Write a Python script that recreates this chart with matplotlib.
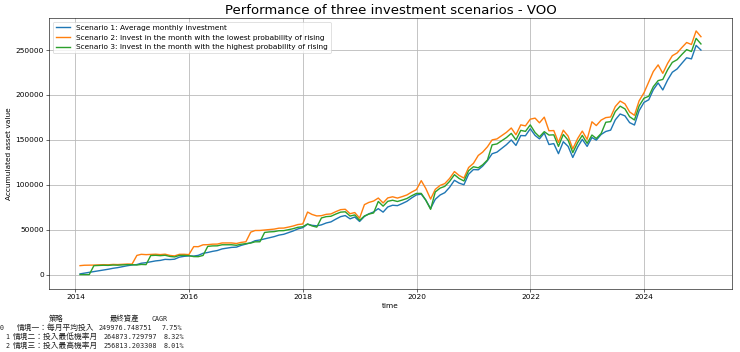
"""Accumulated asset value of three monthly/annual investment scenarios on VOO."""

import pandas as pd

import matplotlib
matplotlib.use("Agg")
import matplotlib.pyplot as plt  # noqa: E402

# month-end dates, Jan 2014 .. Dec 2024
FIRST_MONTH = "2014-01-31"
LAST_MONTH = "2024-12-31"

scenario_1 = [
    833, 1704, 2552, 3405, 4315, 5237, 5999, 7067, 7802, 8828, 9891, 10697,
    11215, 12682, 13313, 14280, 15285, 15820, 16989, 16783, 17197, 19485, 20356, 20862,
    20670, 21449, 23732, 24665, 25914, 26810, 28639, 29479, 30321, 30609, 32534, 34009,
    35508, 37716, 38591, 39834, 41189, 42282, 43997, 44922, 46689, 48630, 50903, 52311,
    56173, 54898, 54337, 55399, 57514, 58713, 61751, 64547, 65754, 62113, 64152, 59183,
    64777, 67636, 69784, 73469, 69573, 75316, 77249, 76798, 79065, 81635, 85372, 88775,
    89608, 83027, 73582, 83872, 88635, 91233, 97236, 105035, 101899, 100062, 111817, 116976,
    116693, 120753, 126897, 134584, 136356, 140427, 144672, 149920, 143829, 154839, 154607, 162425,
    154967, 151161, 157640, 144822, 145879, 134669, 147990, 142753, 130446, 141908, 150589, 142750,
    152649, 149722, 156031, 159385, 160853, 172352, 178818, 176744, 169212, 166572, 182529, 191717,
    194700, 205800, 213400, 205600, 216700, 225300, 229000, 235400, 241400, 240200, 255200, 249977,
]

scenario_2 = [
    10000, 10447, 10535, 10616, 10855, 11079, 10928, 11356, 11197, 11474, 11773, 11741,
    21395, 22602, 22242, 22466, 22735, 22291, 22765, 21372, 20837, 22600, 22645, 22280,
    31185, 31103, 33204, 33345, 33906, 33988, 35250, 35260, 35269, 34635, 35871, 36578,
    47294, 49124, 49180, 49700, 50351, 50670, 51726, 51834, 52912, 54166, 55770, 56400,
    69665, 67050, 65346, 65622, 67139, 67567, 70104, 72333, 72751, 67801, 69117, 62865,
    77923, 80359, 81921, 85269, 79780, 85409, 86657, 85216, 86807, 88714, 91869, 94634,
    104635, 95977, 84097, 94902, 99349, 101326, 107069, 114740, 110403, 107509, 119244, 123857,
    132675, 136344, 142341, 150028, 151074, 154661, 158418, 163253, 155713, 166730, 165583, 173063,
    174228, 169012, 175323, 160141, 160388, 147148, 160794, 154198, 140004, 151412, 159784, 150583,
    170146, 165953, 172024, 174803, 175499, 187136, 193252, 190110, 181111, 177395, 193501, 202357,
    214700, 226100, 233500, 224100, 235200, 243700, 246800, 252900, 258400, 256200, 271300, 264874,
]

scenario_3 = [
    0, 0, 0, 10000, 10226, 10436, 10294, 10697, 10547, 10808, 11090, 11059,
    10733, 11339, 11159, 21271, 21526, 21105, 21554, 20236, 19729, 21398, 21440, 21095,
    20058, 20005, 21357, 31447, 31977, 32054, 33245, 33253, 33262, 32664, 33829, 34496,
    35172, 36533, 36574, 46962, 47577, 47878, 48875, 48978, 49996, 51181, 52697, 53292,
    56377, 54261, 52883, 63106, 64565, 64976, 67415, 69559, 69961, 65200, 66466, 60454,
    65317, 67360, 68669, 81475, 76231, 81609, 82801, 81424, 82945, 84767, 87781, 90424,
    90424, 82942, 72675, 92014, 96325, 98242, 103810, 111249, 107043, 104237, 115615, 120088,
    118941, 122231, 127606, 144499, 145506, 148960, 152580, 157236, 149974, 160584, 159480, 166685,
    158176, 153441, 159171, 155387, 155627, 142779, 156019, 149620, 135846, 146916, 155040, 146112,
    155391, 151562, 157104, 169644, 170319, 181613, 187549, 184500, 175764, 172158, 187791, 196385,
    198600, 209200, 216000, 217300, 228100, 236300, 239300, 245200, 250500, 248400, 263000, 256813,
]

labels = [
    "Scenario 1: Average monthly investment",
    "Scenario 2: Invest in the month with the lowest probability of rising",
    "Scenario 3: Invest in the month with the highest probability of rising",
]

# printed summary table under the chart
strategy_names = ["情境一：每月平均投入", "情境二：投入最低機率月", "情境三：投入最高機率月"]
final_assets = ["249976.748751", "264873.729797", "256813.203308"]
cagr = ["7.75%", "8.32%", "8.01%"]

W, H = 740, 352
DPI = W / 14


def px(x, y):
    return x / W, 1 - y / H


def main() -> None:
    dates = pd.date_range(FIRST_MONTH, LAST_MONTH, freq="ME")

    fig = plt.figure(figsize=(14, H / DPI), dpi=DPI)
    ax = fig.add_axes([49 / W, (H - 289) / H, (732 - 49) / W, (289 - 18) / H])
    for values, label in zip([scenario_1, scenario_2, scenario_3], labels):
        ax.plot(dates, values, label=label, linewidth=1.9)
    ax.set_ylim(-16000, 285700)
    ax.set_title("Performance of three investment scenarios - VOO", fontsize=18, pad=5)
    ax.set_xlabel("time")
    ax.set_ylabel("Accumulated asset value")
    ax.grid(True, color="#b8b8b8", linewidth=1.1)
    ax.legend(loc="upper left")

    mono = ["DejaVu Sans Mono", "Noto Sans CJK TC"]
    cjk = ["Noto Sans CJK TC", "DejaVu Sans"]
    ink = "#222222"

    fig.text(*px(49, 319), "策略", family=cjk, fontsize=10, va="center", color=ink)
    fig.text(*px(110, 319), "最終資產", family=cjk, fontsize=10, va="center", color=ink)
    fig.text(*px(152, 319), "CAGR", family=mono, fontsize=9, va="center", color=ink)

    rows_y = [328, 337, 346]
    name_x = [17, 13, 13]
    num_x = [99, 104, 104]
    pct_x = [162, 164, 164]
    for i, y in enumerate(rows_y):
        fig.text(*px(0 if i == 0 else 5, y), str(i), family=mono, fontsize=9,
                 va="center", color=ink)
        fig.text(*px(name_x[i], y), strategy_names[i], family=cjk, fontsize=10.5,
                 va="center", color=ink)
        fig.text(*px(num_x[i], y), final_assets[i], family=mono, fontsize=9.2,
                 va="center", color=ink)
        fig.text(*px(pct_x[i], y), cagr[i], family=mono, fontsize=9.2,
                 va="center", color=ink)

    fig.savefig("out.png", dpi=DPI)
    plt.close(fig)


if __name__ == "__main__":
    main()
